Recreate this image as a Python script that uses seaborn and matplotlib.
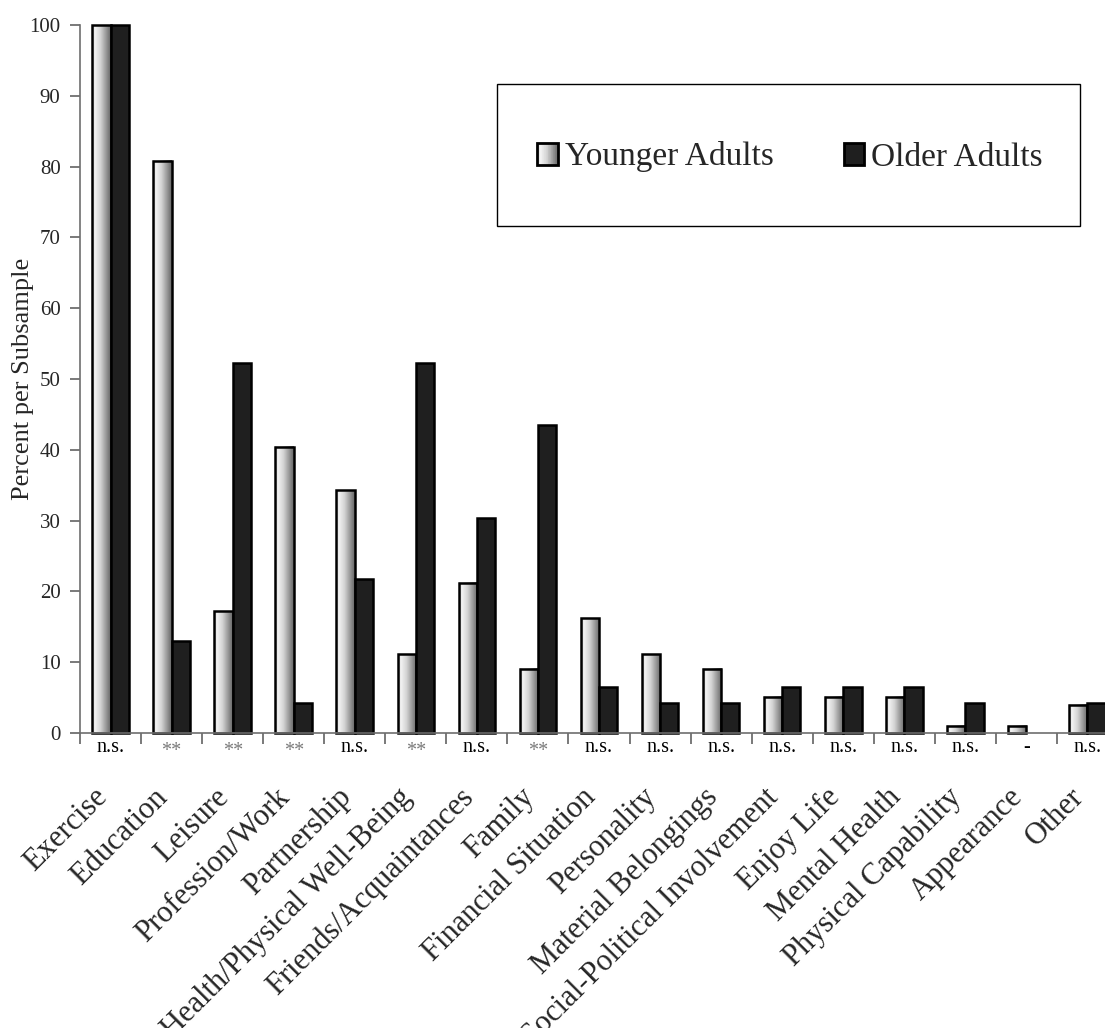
import numpy as np
import pandas as pd
import seaborn as sns
import matplotlib.pyplot as plt
import matplotlib.colors as mcolors
from matplotlib.patches import Rectangle, Patch
from matplotlib.legend_handler import HandlerBase

categories = [
    "Exercise", "Education", "Leisure", "Profession/Work", "Partnership",
    "Health/Physical Well-Being", "Friends/Acquaintances", "Family",
    "Financial Situation", "Personality", "Material Belongings",
    "Social-Political Involvement", "Enjoy Life", "Mental Health",
    "Physical Capability", "Appearance", "Other",
]
younger = [100.0, 80.8, 17.2, 40.4, 34.3, 11.1, 21.2, 9.1, 16.2, 11.1, 9.1,
           5.1, 5.1, 5.1, 1.0, 1.0, 4.0]
older = [100.0, 13.0, 52.2, 4.3, 21.7, 52.2, 30.4, 43.5, 6.5, 4.3, 4.3,
         6.5, 6.5, 6.5, 4.3, 0.0, 4.3]
significance = ["n.s.", "**", "**", "**", "n.s.", "**", "n.s.", "**", "n.s.",
                "n.s.", "n.s.", "n.s.", "n.s.", "n.s.", "n.s.", "-", "n.s."]
groups = ["Younger Adults", "Older Adults"]
y_ticks = list(range(0, 101, 10))

df = pd.DataFrame({
    "Category": categories * 2,
    "Group": [groups[0]] * len(categories) + [groups[1]] * len(categories),
    "Percent": younger + older,
})

sns.set_style("white")
plt.rcParams["font.family"] = ["Liberation Serif", "DejaVu Serif"]

W, H = 1105, 1028
fig = plt.figure(figsize=(W / 100, H / 100), dpi=100)
ax = fig.add_axes([80 / W, (H - 733) / H, 1038 / W, 708 / H])

dark = "#1f1f1f"
sns.barplot(data=df, x="Category", y="Percent", hue="Group",
            palette={groups[0]: "#dddddd", groups[1]: dark},
            width=0.6, saturation=1, edgecolor="black", linewidth=1.8,
            legend=False, ax=ax)

# horizontal metallic gradient for the light series
grad_cmap = mcolors.LinearSegmentedColormap.from_list(
    "silver", [(0.0, "#c9c9c9"), (0.15, "#f3f3f3"), (0.45, "#d4d4d4"), (1.0, "#666666")])
grad = np.linspace(0, 1, 64).reshape(1, -1)

for bar in ax.containers[0]:
    x, y = bar.get_x(), bar.get_y()
    w, h = bar.get_width(), bar.get_height()
    bar.set_facecolor("none")
    bar.set_clip_on(False)
    if h > 0:
        ax.imshow(grad, extent=[x, x + w, y, y + h], aspect="auto",
                  cmap=grad_cmap, zorder=bar.get_zorder() - 0.01,
                  interpolation="bilinear")
for bar in ax.containers[1]:
    bar.set_clip_on(False)
    if bar.get_height() == 0:
        bar.set_linewidth(0)

ax.set_xlim(-0.5, len(categories) - 0.5)
ax.set_ylim(0, 100)

sns.despine(ax=ax, top=True, right=True)
for side in ("left", "bottom"):
    ax.spines[side].set_color("#6e6e6e")
    ax.spines[side].set_linewidth(1.2)

ax.set_yticks(y_ticks)
ax.set_yticklabels([str(t) for t in y_ticks], fontsize=15)
ax.tick_params(axis="y", direction="out", length=7, width=1.1, color="#555555",
               left=True, pad=7)

ax.set_xticks(range(len(categories)))
ax.set_xticklabels([""] * len(categories))
ax.tick_params(axis="x", which="major", length=0)
ax.set_xticks(np.arange(-0.5, len(categories), 1.0), minor=True)
ax.tick_params(axis="x", which="minor", direction="out", length=8, width=1.1,
               color="#555555", bottom=True)

ax.set_xlabel("")
ax.set_ylabel("Percent per Subsample", fontsize=19)
ax.yaxis.set_label_coords(-0.044, 0.5)

for i, (cat, sig) in enumerate(zip(categories, significance)):
    ax.annotate(cat, xy=(i, 0), xycoords="data", xytext=(-8, -60),
                textcoords="offset pixels", rotation=45, ha="right",
                va="center", rotation_mode="anchor", fontsize=22,
                annotation_clip=False)
    is_star = sig == "**"
    ax.annotate(sig, xy=(i, 0), xycoords="data",
                xytext=(0, -18 if is_star else -15),
                textcoords="offset pixels", ha="center", va="center",
                fontsize=14.5, color="#7a7a7a" if is_star else "black",
                annotation_clip=False)


class GradientHandler(HandlerBase):
    def create_artists(self, legend, orig_handle, xdescent, ydescent,
                       width, height, fontsize, trans):
        n = 30
        arts = []
        for k in range(n):
            arts.append(Rectangle((-xdescent + width * k / n, -ydescent),
                                  width / n * 1.05, height,
                                  facecolor=grad_cmap((k + 0.5) / n),
                                  edgecolor="none", transform=trans))
        arts.append(Rectangle((-xdescent, -ydescent), width, height,
                              fill=False, edgecolor="black", linewidth=2,
                              transform=trans))
        return arts


fig.add_artist(Rectangle((497 / W, (H - 226) / H), (1080 - 497) / W, 142 / H,
                         transform=fig.transFigure, fill=False,
                         edgecolor="black", linewidth=1.0))

young_handle = Patch(facecolor="#dddddd", edgecolor="black")
old_handle = Patch(facecolor=dark, edgecolor="black", linewidth=2)
fig.legend([young_handle, old_handle], groups, loc="center",
           bbox_to_anchor=(790 / W, (H - 157) / H), ncol=2, frameon=False,
           fontsize=24, handlelength=0.62, handleheight=0.62,
           handletextpad=0.2, columnspacing=2.1, borderaxespad=0,
           handler_map={young_handle: GradientHandler()})

fig.savefig("out.png", dpi=100)
